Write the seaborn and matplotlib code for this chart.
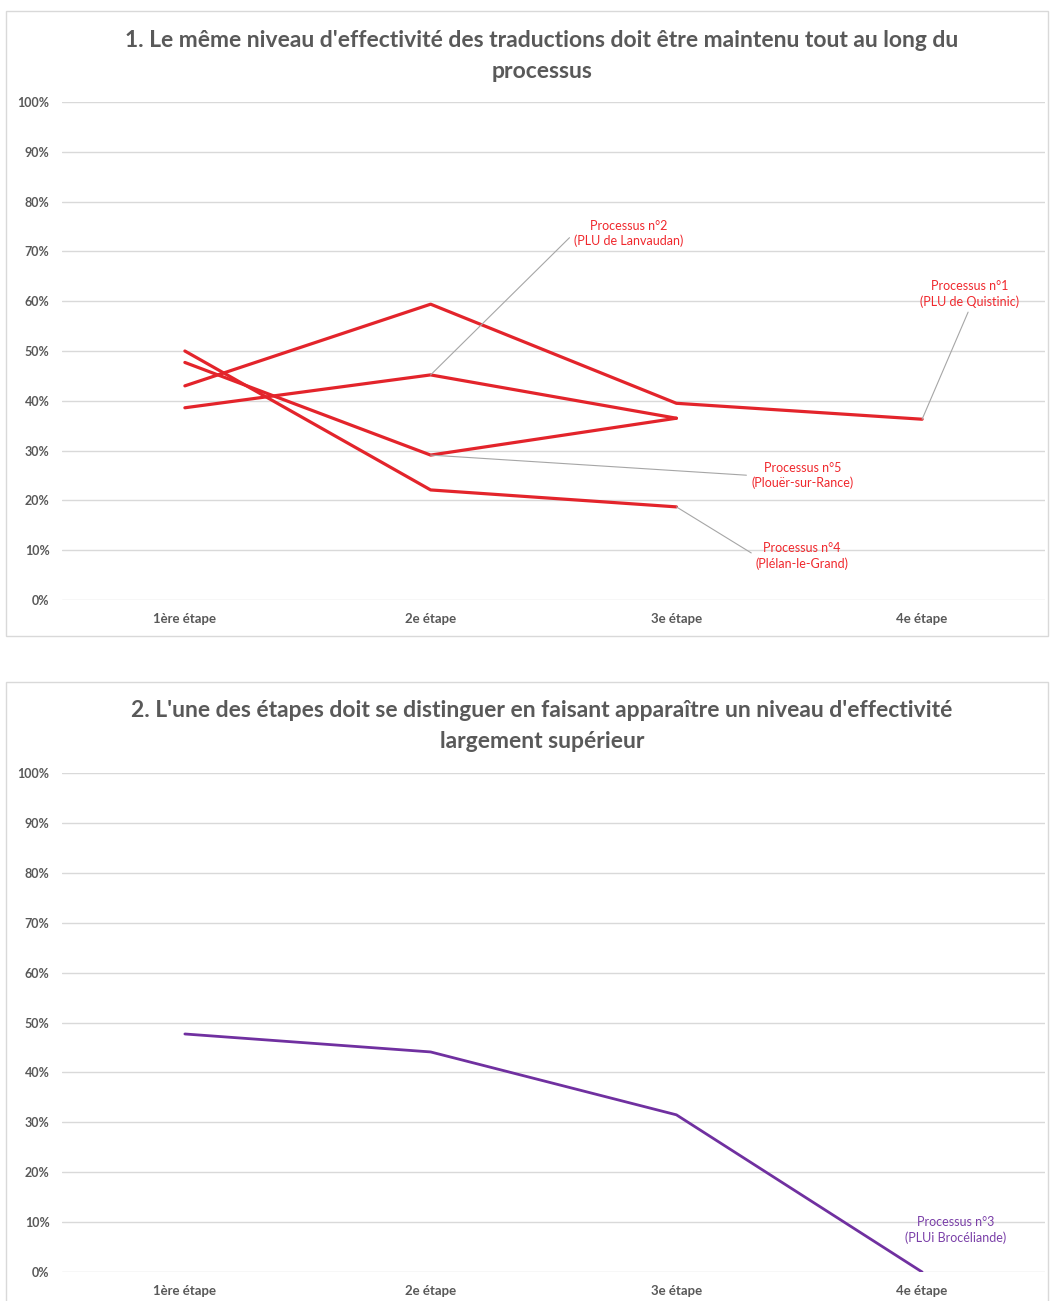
import matplotlib
matplotlib.use("Agg")
from matplotlib import pyplot as plt
from matplotlib.patches import Rectangle
from matplotlib.ticker import PercentFormatter
import seaborn as sns
import pandas as pd

sns.set_theme(style="white")
plt.rcParams['font.family'] = ['Lato', 'DejaVu Sans']

# data
stages = ['1ère étape', '2e étape', '3e étape', '4e étape']
p1_quistinic = [0.430, 0.594, 0.395, 0.363]
p2_lanvaudan = [0.386, 0.452, 0.365]
p4_plelan = [0.500, 0.221, 0.187]
p5_plouer = [0.477, 0.291, 0.365]
p3_broceliande = [0.477, 0.441, 0.315, 0.0]

title1 = "1. Le même niveau d'effectivité des traductions doit être maintenu tout au long du\nprocessus"
title2 = "2. L'une des étapes doit se distinguer en faisant apparaître un niveau d'effectivité\nlargement supérieur"

RED = '#e3242b'
RED_TXT = '#f0282d'
PURPLE = '#7030a0'
PURPLE_TXT = '#7a3fa8'
GREY = '#595959'
GRID = '#d9d9d9'
W, H = 1050, 1301


def long_df(series):
    rows = []
    for name, vals in series.items():
        for st, v in zip(stages, vals):
            rows.append({'etape': st, 'valeur': v, 'processus': name})
    return pd.DataFrame(rows)


def style_axis(ax):
    ax.set_ylim(0, 1)
    ax.set_xlim(-0.5, 3.5)
    ax.set_yticks([i / 10 for i in range(11)])
    ax.yaxis.set_major_formatter(PercentFormatter(1.0, decimals=0))
    ax.grid(axis='y', color=GRID, lw=1)
    ax.grid(axis='x', visible=False)
    for s in ax.spines.values():
        s.set_visible(False)
    ax.tick_params(axis='both', length=0, labelcolor=GREY)
    ax.tick_params(axis='y', pad=9, labelsize=9)
    ax.tick_params(axis='x', pad=9.5, labelsize=9.5)
    for lab in ax.get_xticklabels() + ax.get_yticklabels():
        lab.set_fontweight('bold')
    ax.set_xlabel('')
    ax.set_ylabel('')
    ax.set_facecolor('none')


def label(ax, text, xy, xytext, color, relpos=None):
    kw = {}
    if relpos is not None:
        kw['arrowprops'] = dict(arrowstyle='-', color='#a6a6a6', lw=0.8,
                                relpos=relpos, shrinkA=1, shrinkB=0)
    ax.annotate(text, xy=xy, xytext=xytext, textcoords='data', color=color,
                fontsize=9, ha='center', va='center', linespacing=1.3, **kw)


fig = plt.figure(figsize=(W / 100, H / 100), dpi=100)

# chart frames
for y0, y1 in [(11, 636), (682, 1320)]:
    fig.patches.append(Rectangle((6 / W, 1 - y1 / H), 1042 / W, (y1 - y0) / H,
                                 transform=fig.transFigure, fill=False,
                                 edgecolor='#d9d9d9', lw=1))

# --- chart 1
ax1 = fig.add_axes([62 / W, 1 - 600 / H, 983 / W, 498 / H])
df1 = long_df({'Processus n°1': p1_quistinic, 'Processus n°2': p2_lanvaudan,
               'Processus n°4': p4_plelan, 'Processus n°5': p5_plouer})
sns.lineplot(data=df1, x='etape', y='valeur', hue='processus',
             palette={k: RED for k in df1['processus'].unique()},
             estimator=None, sort=False, legend=False, lw=2.3, ax=ax1)
style_axis(ax1)
label(ax1, 'Processus n°2\n(PLU de Lanvaudan)', (1, p2_lanvaudan[1]), (1.805, 0.736), RED_TXT, (0, 0.5))
label(ax1, 'Processus n°1\n(PLU de Quistinic)', (3, p1_quistinic[3]), (3.195, 0.615), RED_TXT, (0.5, 0))
label(ax1, 'Processus n°5\n(Plouër-sur-Rance)', (1, p5_plouer[1]), (2.512, 0.250), RED_TXT, (0, 0.5))
label(ax1, 'Processus n°4\n(Plélan-le-Grand)', (2, p4_plelan[2]), (2.512, 0.089), RED_TXT, (0, 0.5))
fig.text(542 / W, 1 - 56 / H, title1, ha='center', va='center', fontsize=16.5,
         fontweight='bold', color=GREY, linespacing=1.55)

# --- chart 2
ax2 = fig.add_axes([62 / W, 1 - 1272 / H, 983 / W, 499 / H])
df2 = long_df({'Processus n°3': p3_broceliande})
sns.lineplot(data=df2, x='etape', y='valeur', color=PURPLE,
             estimator=None, sort=False, legend=False, lw=2, ax=ax2)
style_axis(ax2)
label(ax2, 'Processus n°3\n(PLUi Brocéliande)', (3, 0), (3.138, 0.084), PURPLE_TXT)
fig.text(542 / W, 1 - 726 / H, title2, ha='center', va='center', fontsize=16.5,
         fontweight='bold', color=GREY, linespacing=1.55)

fig.savefig('out.png', dpi=100, facecolor='white')
